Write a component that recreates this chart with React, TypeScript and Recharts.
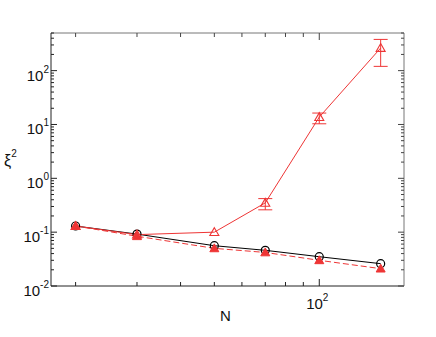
import React from 'react';
import { LineChart, Line, XAxis, YAxis, ErrorBar } from 'recharts';

document.body.style.margin = '0';

// system sizes N and the three xi^2 curves
const sizes = [20, 30, 50, 70, 100, 150];
const blackCircle = [0.13, 0.092, 0.056, 0.046, 0.035, 0.026];
const redFilled = [0.13, 0.084, 0.05, 0.042, 0.03, 0.021];
const redOpen = [0.13, 0.09, 0.1, 0.35, 13.7, 263];
const redOpenErr: (number[] | null)[] = [null, null, null, [0.09, 0.07], [3.4, 2.6], [143, 117]];

const xTicks = [20, 30, 40, 50, 60, 70, 80, 90, 100];
const yMajor = [0.01, 0.1, 1, 10, 100];
const yTicks = [
  0.01, 0.02, 0.03, 0.04, 0.05, 0.06, 0.07, 0.08, 0.09,
  0.1, 0.2, 0.3, 0.4, 0.5, 0.6, 0.7, 0.8, 0.9,
  1, 2, 3, 4, 5, 6, 7, 8, 9,
  10, 20, 30, 40, 50, 60, 70, 80, 90,
  100, 200, 300, 400, 500,
];

const data = sizes.map((n, i) => ({
  n,
  black: blackCircle[i],
  redDash: redFilled[i],
  redSolid: redOpen[i],
  err: redOpenErr[i],
}));

const RED = '#ee3535';
const FONT = '"Liberation Sans", Arial, Helvetica, sans-serif';

const isMajorY = (v: number) => yMajor.some((m) => Math.abs(m - v) < 1e-9);

const BottomTick = (props: any) => {
  const { x, y, payload } = props;
  const major = payload.value === 100;
  return (
    <g>
      <line x1={x} x2={x} y1={y} y2={y - (major ? 7 : 4)} stroke="#222" />
      {major && (
        <text x={x - 2} y={y + 23} textAnchor="middle" fontSize={15} fontFamily={FONT} fill="#111">
          10
          <tspan dy={-8} fontSize={10}>2</tspan>
        </text>
      )}
    </g>
  );
};

const TopTick = (props: any) => {
  const { x, y, payload } = props;
  const major = payload.value === 100;
  return <line x1={x} x2={x} y1={y} y2={y + (major ? 7 : 4)} stroke="#444" />;
};

const LeftTick = (props: any) => {
  const { x, y, payload } = props;
  const v = payload.value;
  const major = isMajorY(v);
  const exp = Math.round(Math.log10(v));
  return (
    <g>
      <line x1={x} x2={x + (major ? 6 : 3)} y1={y} y2={y} stroke="#222" />
      {major && (
        <text x={x - 2} y={y + 10} textAnchor="end" fontSize={15} fontFamily={FONT} fill="#111">
          10
          <tspan dy={-8} fontSize={10}>{String(exp)}</tspan>
        </text>
      )}
    </g>
  );
};

const RightTick = (props: any) => {
  const { x, y, payload } = props;
  const major = isMajorY(payload.value);
  return <line x1={x} x2={x - (major ? 6 : 3)} y1={y} y2={y} stroke="#444" />;
};

const circleDot = (props: any) => {
  const { cx, cy, index } = props;
  return <circle key={`c${index}`} cx={cx} cy={cy} r={4} fill="none" stroke="#000" strokeWidth={1.2} />;
};

const triangle = (cx: number, cy: number, s: number) =>
  `M${cx},${cy - s} L${cx + s},${cy + s * 0.75} L${cx - s},${cy + s * 0.75} Z`;

const filledTri = (props: any) => {
  const { cx, cy, index } = props;
  return <path key={`f${index}`} d={triangle(cx, cy, 4.5)} fill={RED} stroke={RED} />;
};

const openTri = (props: any) => {
  const { cx, cy, index } = props;
  return <path key={`o${index}`} d={triangle(cx, cy, 4.5)} fill="none" stroke={RED} strokeWidth={1.1} />;
};

export default function App() {
  return (
    <div style={{ position: 'relative', width: 436, height: 337, background: '#fff' }}>
      <LineChart width={436} height={337} data={data} margin={{ top: 32, right: 31, bottom: 50, left: 50 }}>
        <XAxis
          dataKey="n"
          type="number"
          scale="log"
          domain={[17, 175]}
          ticks={xTicks}
          interval={0}
          height={1}
          tickSize={0}
          tickMargin={0}
          tick={<BottomTick />}
          axisLine={{ stroke: '#222' }}
          tickLine={false}
          allowDataOverflow
        />
        <XAxis
          xAxisId="top"
          orientation="top"
          dataKey="n"
          type="number"
          scale="log"
          domain={[17, 175]}
          ticks={xTicks}
          interval={0}
          height={1}
          tickSize={0}
          tickMargin={0}
          tick={<TopTick />}
          axisLine={{ stroke: '#777' }}
          tickLine={false}
          allowDataOverflow
        />
        <YAxis
          type="number"
          scale="log"
          domain={[0.01, 500]}
          ticks={yTicks}
          interval={0}
          width={1}
          tickSize={0}
          tickMargin={0}
          tick={<LeftTick />}
          axisLine={{ stroke: '#222' }}
          tickLine={false}
          allowDataOverflow
        />
        <YAxis
          yAxisId="right"
          orientation="right"
          type="number"
          scale="log"
          domain={[0.01, 500]}
          ticks={yTicks}
          interval={0}
          width={1}
          tickSize={0}
          tickMargin={0}
          tick={<RightTick />}
          axisLine={{ stroke: '#777' }}
          tickLine={false}
          allowDataOverflow
        />
        <Line dataKey="black" stroke="#000" strokeWidth={1} dot={circleDot} isAnimationActive={false} />
        <Line dataKey="redDash" stroke={RED} strokeWidth={1} strokeDasharray="6 3" dot={filledTri} isAnimationActive={false} />
        <Line dataKey="redSolid" stroke={RED} strokeWidth={1} dot={openTri} isAnimationActive={false}>
          <ErrorBar dataKey="err" width={7} stroke={RED} strokeWidth={1} direction="y" />
        </Line>
      </LineChart>
      <div style={{ position: 'absolute', left: 220, top: 307, fontFamily: FONT, fontSize: 15, color: '#111' }}>N</div>
      <svg style={{ position: 'absolute', left: 0, top: 140 }} width={30} height={40}>
        <text x={4} y={26} fontSize={16} fontFamily={FONT} fill="#111">
          ξ
          <tspan dy={-9} fontSize={10}>2</tspan>
        </text>
      </svg>
    </div>
  );
}
